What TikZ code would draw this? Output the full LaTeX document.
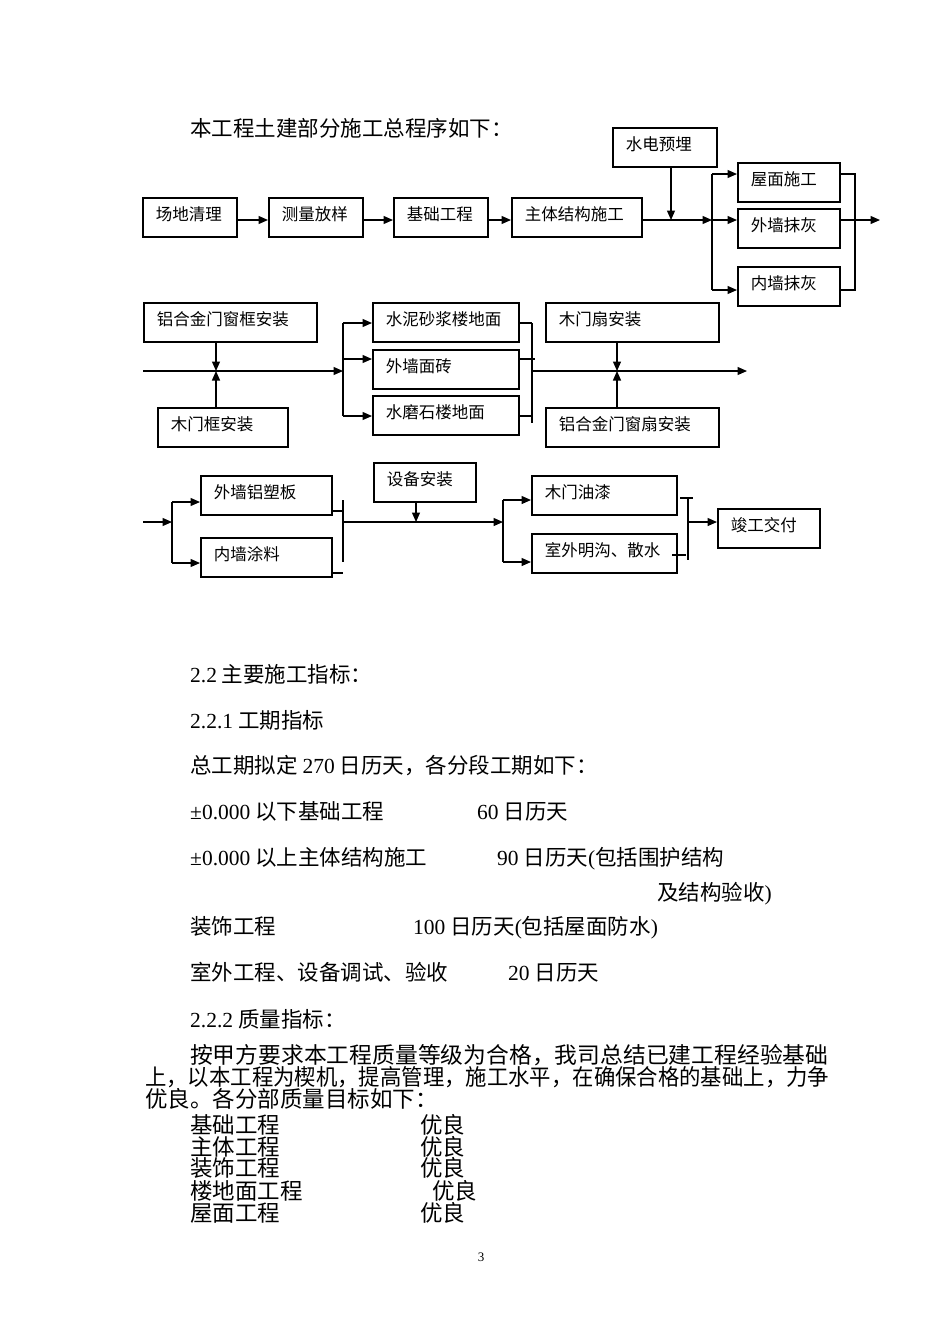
\documentclass[tikz,border=0pt]{standalone}
\usepackage{fontspec}
\usepackage{graphicx}
\setmainfont{Noto Sans CJK SC}
\newfontfamily\lat{Liberation Serif}
\usetikzlibrary{arrows.meta}

\tikzset{
  box/.style={draw, line width=1.6pt, anchor=north west, inner xsep=13pt, inner ysep=0pt,
    minimum height=39pt, text width=#1, align=left, text height=13pt, text depth=6.6pt,
    font=\fontsize{16.5}{18}\selectfont},
  line/.style={line width=1.3pt},
  arr/.style={line width=1.3pt, -{Triangle[length=9.5pt,width=8pt]}},
  txt/.style={anchor=base west, inner sep=0pt, font=\fontsize{21.5}{24}\selectfont},
  para/.style={anchor=base west, inner sep=0pt, font=\fontsize{22.5}{24}\selectfont},
}

\begin{document}
\begin{tikzpicture}[x=1pt,y=-1pt]
  \path[use as bounding box, fill=white] (0,0) rectangle (950,1344);

  \node[txt] (head) at (190,136) {本工程土建部分施工总程序如下：};

  % first row
  \node[box=68pt] (qingli) at (142,197) {场地清理};
  \node[box=68pt] (celiang) at (268,197) {测量放样};
  \node[box=68pt] (jichu) at (393,197) {基础工程};
  \node[box=104pt] (zhuti) at (511,197) {主体结构施工};
  \node[box=78pt] (shuidian) at (612,127) {水电预埋};
  \node[box=76pt] (wumian) at (737,162) {屋面施工};
  \node[box=76pt] (waiqiang) at (737,208) {外墙抹灰};
  \node[box=76pt] (neiqiang) at (737,266) {内墙抹灰};

  \coordinate (r1) at (0,220);
  \draw[arr] (qingli.east|-r1) -- (celiang.west|-r1);
  \draw[arr] (celiang.east|-r1) -- (jichu.west|-r1);
  \draw[arr] (jichu.east|-r1) -- (zhuti.west|-r1);
  \coordinate (fork1) at (712,220);
  \coordinate (fork1a) at (712,174);
  \coordinate (fork1c) at (712,290);
  \coordinate (drop1) at (671,220);
  \draw[arr] (zhuti.east|-r1) -- (fork1);
  \draw[arr] (shuidian.south-|drop1) -- (drop1);
  \draw[line] (fork1a) -- (fork1c);
  \draw[arr] (fork1a) -- (wumian.west|-fork1a);
  \draw[arr] (fork1) -- (waiqiang.west|-fork1);
  \draw[arr] (fork1c) -- (neiqiang.west|-fork1c);
  \coordinate (join1a) at (855,174);
  \coordinate (join1) at (855,220);
  \coordinate (join1c) at (855,290);
  \coordinate (out1) at (880,220);
  \draw[line] (wumian.east|-join1a) -- (join1a) -- (join1c) -- (neiqiang.east|-join1c);
  \draw[line] (waiqiang.east|-join1) -- (join1);
  \draw[arr] (join1) -- (out1);

  % second row
  \node[box=147pt] (lvkuang) at (143,302) {铝合金门窗框安装};
  \node[box=104pt] (mukuang) at (157,407) {木门框安装};
  \node[box=120pt] (shuini) at (372,302) {水泥砂浆楼地面};
  \node[box=120pt] (waizhuan) at (372,349) {外墙面砖};
  \node[box=120pt] (shuimo) at (372,395) {水磨石楼地面};
  \node[box=147pt] (mushan) at (545,302) {木门扇安装};
  \node[box=147pt] (lvshan) at (545,407) {铝合金门窗扇安装};

  \coordinate (in2) at (143,371);
  \coordinate (meet2) at (216,371);
  \coordinate (fork2) at (343,371);
  \coordinate (fork2a) at (343,323);
  \coordinate (fork2b) at (343,359);
  \coordinate (fork2c) at (343,416);
  \draw[arr] (in2) -- (fork2);
  \draw[arr] (lvkuang.south-|meet2) -- (meet2);
  \draw[arr] (mukuang.north-|meet2) -- (meet2);
  \draw[line] (fork2a) -- (fork2c);
  \draw[arr] (fork2a) -- (shuini.west|-fork2a);
  \draw[arr] (fork2b) -- (waizhuan.west|-fork2b);
  \draw[arr] (fork2c) -- (shuimo.west|-fork2c);
  \coordinate (join2a) at (532,323);
  \coordinate (join2) at (532,371);
  \coordinate (join2c) at (532,423);
  \coordinate (meet3) at (617,371);
  \coordinate (out2) at (747,371);
  \draw[line] (join2a) -- (join2c);
  \draw[line] (shuini.east|-fork2a) -- (join2a);
  \draw[line] (waizhuan.east|-fork2b) -- ([xshift=3pt]join2a|-fork2b);
  \draw[line] (shuimo.east|-fork2c) -- (join2a|-fork2c);
  \draw[arr] (join2) -- (out2);
  \draw[arr] (mushan.south-|meet3) -- (meet3);
  \draw[arr] (lvshan.north-|meet3) -- (meet3);

  % third row
  \node[box=105pt] (lvsu) at (200,475) {外墙铝塑板};
  \node[box=105pt] (tuliao) at (200,537) {内墙涂料};
  \node[box=76pt] (shebei) at (373,462) {设备安装};
  \node[box=119pt] (youqi) at (531,475) {木门油漆};
  \node[box=119pt] (mingou) at (531,533) {室外明沟、散水};
  \node[box=76pt] (jungong) at (717,508) {竣工交付};

  \coordinate (in3) at (143,522);
  \coordinate (fork3) at (172,522);
  \coordinate (fork3a) at (172,502);
  \coordinate (fork3c) at (172,563);
  \draw[arr] (in3) -- (fork3);
  \draw[line] (fork3a) -- (fork3c);
  \draw[arr] (fork3a) -- (lvsu.west|-fork3a);
  \draw[arr] (fork3c) -- (tuliao.west|-fork3c);
  \coordinate (join3a) at (343,500);
  \coordinate (join3) at (343,522);
  \coordinate (join3c) at (343,562);
  \coordinate (stub3a) at (343,511);
  \coordinate (stub3c) at (343,573);
  \draw[line] (join3a) -- (join3c);
  \draw[line] (lvsu.east|-stub3a) -- (stub3a);
  \draw[line] (tuliao.east|-stub3c) -- (stub3c);
  \coordinate (fork4) at (503,522);
  \coordinate (fork4a) at (503,500);
  \coordinate (fork4c) at (503,562);
  \coordinate (drop4) at (416,522);
  \draw[arr] (join3) -- (fork4);
  \draw[arr] (shebei.south-|drop4) -- (drop4);
  \draw[line] (fork4a) -- (fork4c);
  \draw[arr] (fork4a) -- (youqi.west|-fork4a);
  \draw[arr] (fork4c) -- (mingou.west|-fork4c);
  \coordinate (join4a) at (688,498);
  \coordinate (join4) at (688,522);
  \coordinate (join4c) at (688,560);
  \coordinate (tick4c) at (688,555);
  \draw[line] (join4a) -- (join4c);
  \draw[line] ([xshift=-8pt]join4a) -- ([xshift=5pt]join4a);
  \draw[line] ([xshift=-16pt]tick4c) -- ([xshift=-2pt]tick4c);
  \draw[arr] (join4) -- (jungong.west|-join4);

  % text below
  \node[txt] (sec) at (190,682) {{\lat 2.2} 主要施工指标：};
  \node[txt] (sec1) at (190,728) {{\lat 2.2.1} 工期指标};
  \node[txt] (total) at (190,773) {总工期拟定 {\lat 270} 日历天，各分段工期如下：};
  \node[txt] (t1) at (190,819) {{\lat ±0.000} 以下基础工程};
  \node[txt] (d1) at (477,819) {{\lat 60} 日历天};
  \node[txt] (t2) at (190,865) {{\lat ±0.000} 以上主体结构施工};
  \node[txt] (d2) at (497,865) {{\lat 90} 日历天{\lat (}包括围护结构};
  \node[txt] (d2b) at (657,900) {及结构验收{\lat )}};
  \node[txt] (t3) at (190,934) {装饰工程};
  \node[txt] (d3) at (413,934) {{\lat 100} 日历天{\lat (}包括屋面防水{\lat )}};
  \node[txt] (t4) at (190,980) {室外工程、设备调试、验收};
  \node[txt] (d4) at (508,980) {{\lat 20} 日历天};
  \node[txt] (sec2) at (190,1027) {{\lat 2.2.2} 质量指标：};

  \node[para] (p1) at (190,1063.5) {\scalebox{1.013}[1]{按甲方要求本工程质量等级为合格，我司总结已建工程经验基础}};
  \node[para] (p2) at (145,1085.5) {\scalebox{0.95}[1]{上，以本工程为楔机，提高管理，施工水平，在确保合格的基础上，力争}};
  \node[para] (p3) at (145,1107.5) {优良。各分部质量目标如下：};
  \node[para] (q1) at (190,1133.5) {基础工程};
  \node[para] (g1) at (420,1133.5) {优良};
  \node[para] (q2) at (190,1155.5) {主体工程};
  \node[para] (g2) at (420,1155.5) {优良};
  \node[para] (q3) at (190,1176.5) {装饰工程};
  \node[para] (g3) at (420,1176.5) {优良};
  \node[para] (q4) at (190,1199.5) {楼地面工程};
  \node[para] (g4) at (432,1199.5) {优良};
  \node[para] (q5) at (190,1221.5) {屋面工程};
  \node[para] (g5) at (420,1221.5) {优良};

  \node[anchor=base, inner sep=0pt, font=\lat\fontsize{13}{15}\selectfont] (pg) at (481,1261) {3};
\end{tikzpicture}
\end{document}
